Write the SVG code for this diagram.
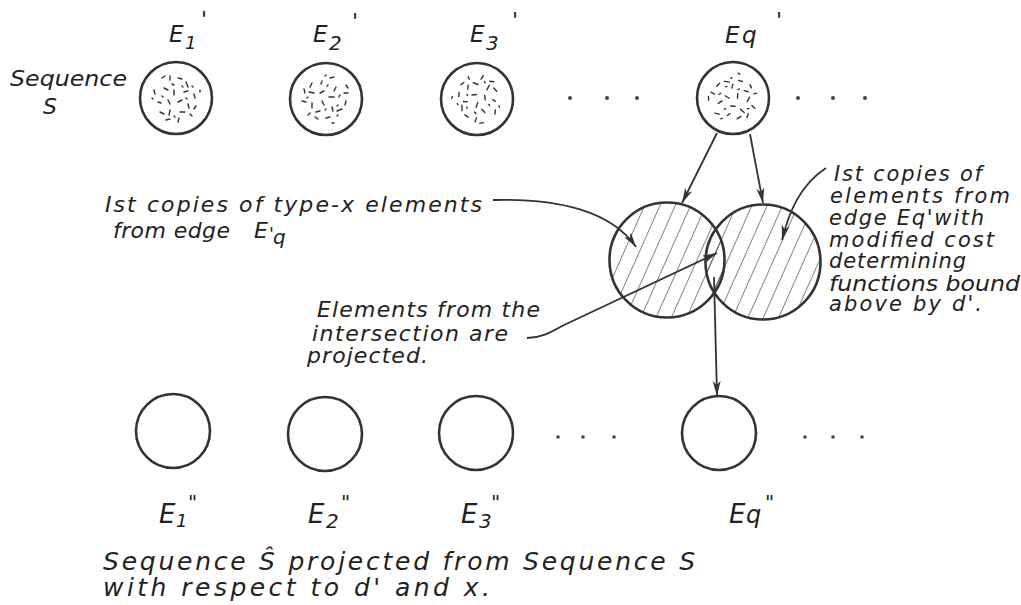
<svg xmlns="http://www.w3.org/2000/svg" width="1021" height="605" viewBox="0 0 1021 605">
<style>
.t{font-family:"DejaVu Sans","Liberation Sans",sans-serif;font-style:oblique;font-size:22px;fill:#222}
.tr{font-family:"DejaVu Sans","Liberation Sans",sans-serif;font-style:oblique;font-size:21px;fill:#222}
.tb{font-family:"DejaVu Sans","Liberation Sans",sans-serif;font-style:oblique;font-size:25px;fill:#222}
.node{fill:#fff;stroke:#333;stroke-width:2.6}
.dot{fill:#444}
.con{fill:none;stroke:#333;stroke-width:1.8}
.sp{fill:none;stroke:#333;stroke-width:1.4;stroke-linecap:round}
</style>
<defs>
<marker id="ah" markerUnits="userSpaceOnUse" markerWidth="16" markerHeight="10" refX="15" refY="5" orient="auto">
<path d="M0,1 L15,5 L0,9 L4,5 Z" fill="#333"/>
</marker>
<pattern id="hp" patternUnits="userSpaceOnUse" width="14" height="14" patternTransform="rotate(24)">
<line x1="0" y1="-2" x2="0" y2="16" stroke="#333" stroke-width="1.2"/>
</pattern>
<g id="speck">
<path class="sp" d="M-14,-20 l3,-2 M-6,-22 l0,4 M2,-20 l4,1 M10,-16 l2,5 M-22,-8 l1,4 M-12,-10 l4,2 M-2,-8 l0,5 M8,-6 l4,-1 M18,-4 l1,4 M-18,4 l3,1 M-8,2 l2,4 M2,4 l4,-2 M12,6 l1,4 M20,8 l-2,3 M-16,14 l4,2 M-6,12 l-1,5 M4,14 l5,0 M14,16 l2,2 M-10,22 l4,-1 M2,24 l1,-4 M-24,0 l1,1 M24,-8 l0,2 M-4,-14 l2,1 M6,-12 l1,1 M-14,-2 l1,1 M10,0 l1,1 M-2,18 l1,1 M16,-12 l1,1"/>
</g>
</defs>

<g id="E1p">
<circle class="node" cx="176" cy="98" r="36"/>
<use href="#speck" transform="translate(176,98)"/>
<text class="t" x="169" y="42" style="font-size:23px">E</text>
<text class="t" x="185" y="49" style="font-size:18px">1</text>
<text class="t" x="201" y="27">'</text>
</g>
<g id="E2p">
<circle class="node" cx="326" cy="99" r="36"/>
<use href="#speck" transform="translate(326,99) rotate(90)"/>
<text class="t" x="313" y="42" style="font-size:23px">E</text>
<text class="t" x="329" y="50" style="font-size:20px">2</text>
<text class="t" x="352" y="29">'</text>
</g>
<g id="E3p">
<circle class="node" cx="477" cy="99" r="36"/>
<use href="#speck" transform="translate(477,99) rotate(200)"/>
<text class="t" x="470" y="42" style="font-size:23px">E</text>
<text class="t" x="486" y="50" style="font-size:20px">3</text>
<text class="t" x="512" y="28">'</text>
</g>
<g id="Eqp">
<circle class="node" cx="733" cy="98" r="36"/>
<use href="#speck" transform="translate(733,98) rotate(300)"/>
<text class="t" x="725" y="43" style="font-size:23px">E</text>
<text class="t" x="742" y="43" style="font-size:23px">q</text>
<text class="t" x="776" y="28">'</text>
</g>
<g id="seqS">
<text class="t" x="10" y="86" textLength="117" lengthAdjust="spacingAndGlyphs">Sequence</text>
<text class="t" x="43" y="114">S</text>
</g>
<g id="dotsTop">
<circle class="dot" cx="570" cy="98" r="2"/><circle class="dot" cx="607" cy="98" r="2"/><circle class="dot" cx="637" cy="98" r="2"/>
<circle class="dot" cx="798" cy="98" r="2"/><circle class="dot" cx="833" cy="98" r="2"/><circle class="dot" cx="865" cy="98" r="2"/>
</g>

<g id="copyLeft">
<circle cx="667" cy="260" r="57.5" fill="url(#hp)"/>
<circle cx="667" cy="260" r="57.5" fill="none" stroke="#333" stroke-width="2.6"/>
</g>
<g id="copyRight">
<circle cx="763" cy="262" r="57.5" fill="url(#hp)"/>
<circle cx="763" cy="262" r="57.5" fill="none" stroke="#333" stroke-width="2.6"/>
</g>

<g id="E1pp">
<circle class="node" cx="173" cy="431" r="37"/>
<text class="t" x="159" y="523" style="font-size:26px">E</text>
<text class="t" x="176" y="527" style="font-size:18px">1</text>
<text class="t" x="188" y="509" style="font-size:20px">"</text>
</g>
<g id="E2pp">
<circle class="node" cx="325" cy="434" r="37"/>
<text class="t" x="308" y="523" style="font-size:26px">E</text>
<text class="t" x="326" y="528" style="font-size:20px">2</text>
<text class="t" x="341" y="509" style="font-size:20px">"</text>
</g>
<g id="E3pp">
<circle class="node" cx="476" cy="433" r="37"/>
<text class="t" x="461" y="523" style="font-size:26px">E</text>
<text class="t" x="479" y="528" style="font-size:20px">3</text>
<text class="t" x="491" y="509" style="font-size:20px">"</text>
</g>
<g id="Eqpp">
<circle class="node" cx="719" cy="433" r="37"/>
<text class="t" x="729" y="523" style="font-size:26px">E</text>
<text class="t" x="746" y="523" style="font-size:24px">q</text>
<text class="t" x="765" y="509" style="font-size:20px">"</text>
</g>
<g id="dotsBottom">
<circle class="dot" cx="558" cy="437" r="1.8"/><circle class="dot" cx="583" cy="437" r="1.8"/><circle class="dot" cx="614" cy="437" r="1.8"/>
<circle class="dot" cx="805" cy="437" r="1.8"/><circle class="dot" cx="833" cy="437" r="1.8"/><circle class="dot" cx="862" cy="437" r="1.8"/>
</g>

<g id="labelTypeX">
<text class="t" x="105" y="212" textLength="377" lengthAdjust="spacing">Ist copies of type-x elements</text>
<text class="t" x="113" y="238" textLength="117" lengthAdjust="spacing">from edge</text>
<text class="t" x="254" y="238">E</text>
<text class="t" x="269" y="240" style="font-size:18px">'</text>
<text class="t" x="273" y="244" style="font-size:20px">q</text>
</g>
<g id="labelIntersection">
<text class="t" x="317" y="317" textLength="223" lengthAdjust="spacing">Elements from the</text>
<text class="t" x="312" y="341" textLength="196" lengthAdjust="spacing">intersection are</text>
<text class="t" x="307" y="363" textLength="121" lengthAdjust="spacing">projected.</text>
</g>
<g id="labelModified">
<text class="tr" x="834" y="181" textLength="148" lengthAdjust="spacing">Ist copies of</text>
<text class="tr" x="830" y="203" textLength="180" lengthAdjust="spacing">elements from</text>
<text class="tr" x="829" y="225" textLength="155" lengthAdjust="spacing">edge Eq'with</text>
<text class="tr" x="829" y="247" textLength="165" lengthAdjust="spacing">modified cost</text>
<text class="tr" x="829" y="268" textLength="137" lengthAdjust="spacing">determining</text>
<text class="tr" x="829" y="291" textLength="191" lengthAdjust="spacingAndGlyphs">functions bound</text>
<text class="tr" x="829" y="311" textLength="153" lengthAdjust="spacing">above by d'.</text>
</g>
<g id="caption">
<text class="tb" x="103" y="570" textLength="592" lengthAdjust="spacing">Sequence Ŝ projected from Sequence S</text>
<text class="tb" x="103" y="596" textLength="387" lengthAdjust="spacing">with respect to d' and x.</text>
</g>

<g id="connectors">
<path class="con" d="M717,133 L682,203" marker-end="url(#ah)"/>
<path class="con" d="M750,134 L763,203" marker-end="url(#ah)"/>
<path class="con" d="M714,277 L717,396" marker-end="url(#ah)"/>
<path class="con" d="M493,200 C560,198 612,212 636,247" marker-end="url(#ah)"/>
<path class="con" d="M527,338 C540,338 550,333 562,326 L717,253" marker-end="url(#ah)"/>
<path class="con" d="M826,168 C800,185 789,212 782,240" marker-end="url(#ah)"/>
</g>
</svg>
